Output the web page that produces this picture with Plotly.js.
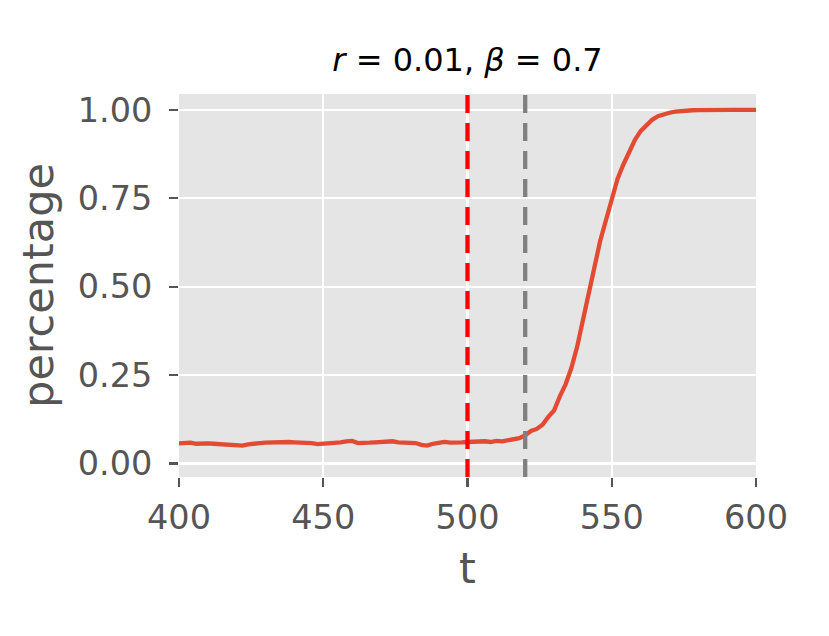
<!DOCTYPE html>
<html>
<head>
<meta charset="utf-8">
<script src="https://cdn.plot.ly/plotly-3.0.1.min.js"></script>
<style>html,body{margin:0;padding:0;background:#fff;}#chart{width:829px;height:636px;}</style>
</head>
<body>
<div id="chart"></div>
<script>
// Data
const tValues = [400,402,404,406,408,410,412,414,416,418,420,422,424,426,428,430,432,434,436,438,
  440,442,444,446,448,450,452,454,456,458,460,462,464,466,468,470,472,474,476,478,
  480,482,484,486,488,490,492,494,496,498,500,502,504,506,508,510,512,514,516,518,
  520,522,524,526,528,530,532,534,536,538,540,542,544,546,548,550,552,554,556,558,
  560,562,564,566,568,570,572,574,576,578,580,582,584,586,588,590,592,594,596,598,600];
const percentage = [0.057,0.058,0.059,0.056,0.058,0.057,0.056,0.055,0.052,0.050,0.049,0.051,0.054,0.057,0.058,0.059,0.060,0.059,0.060,0.061,
  0.060,0.060,0.059,0.058,0.055,0.056,0.059,0.061,0.060,0.063,0.064,0.058,0.060,0.059,0.060,0.062,0.064,0.063,0.060,0.059,
  0.061,0.058,0.053,0.051,0.056,0.060,0.061,0.059,0.058,0.060,0.061,0.062,0.063,0.063,0.061,0.064,0.063,0.066,0.068,0.072,
  0.080,0.092,0.098,0.110,0.132,0.150,0.190,0.224,0.270,0.330,0.405,0.475,0.555,0.630,0.690,0.755,0.805,0.845,0.880,0.915,
  0.940,0.958,0.972,0.982,0.988,0.992,0.995,0.997,0.998,0.999,0.9995,1.0,1.0,1.0,1.0,1.0,1.0,1.0,1.0,1.0,1.0];
const vlineRed = 500;
const vlineGray = 520;
const xTicks = [400,450,500,550,600];
const yTicks = [0,0.25,0.5,0.75,1.0];
const yTickLabels = ['0.00','0.25','0.50','0.75','1.00'];
const titleText = '<i>r</i> = 0.01, <i>β</i> = 0.7';

const trace = {
  x: tValues, y: percentage, mode: 'lines', type: 'scatter',
  line: {color: '#E24A33', width: 4.3}, hoverinfo: 'skip', showlegend: false
};

const layout = {
  width: 829, height: 636,
  margin: {l: 179, r: 73, t: 94, b: 159, pad: 0},
  paper_bgcolor: '#ffffff', plot_bgcolor: '#E5E5E5',
  font: {family: 'DejaVu Sans', color: '#555555', size: 33},
  title: {text: titleText, font: {family: 'DejaVu Sans', size: 32, color: '#000000'},
          x: 0.5, xanchor: 'center', xref: 'paper', y: 1 - 60/636, yanchor: 'middle', yref: 'container'},
  xaxis: {
    range: [400, 600], tickvals: xTicks, ticktext: xTicks.map(String),
    showgrid: true, gridcolor: '#ffffff', gridwidth: 2.2, zeroline: false,
    ticks: 'outside', ticklen: 9, tickwidth: 2.2, tickcolor: '#555555',
    tickfont: {size: 33.5, color: '#555555', family: 'DejaVu Sans'},
    ticklabelstandoff: 2,
    title: {text: 't', font: {size: 43, color: '#555555', family: 'DejaVu Sans'}, standoff: 16},
    showline: false, fixedrange: true
  },
  yaxis: {
    range: [-0.038, 1.045], tickvals: yTicks, ticktext: yTickLabels,
    showgrid: true, gridcolor: '#ffffff', gridwidth: 2.2, zeroline: false,
    ticks: 'outside', ticklen: 9, tickwidth: 2.2, tickcolor: '#555555',
    tickfont: {size: 33.5, color: '#555555', family: 'DejaVu Sans'},
    ticklabelstandoff: 10,
    title: {text: 'percentage', font: {size: 43, color: '#555555', family: 'DejaVu Sans'}, standoff: 10},
    showline: false, fixedrange: true
  },
  shapes: [
    {type: 'line', xref: 'x', yref: 'paper', x0: vlineRed, x1: vlineRed, y0: 0, y1: 1,
     line: {color: '#FF0000', width: 4.3, dash: '18px,10px'}},
    {type: 'line', xref: 'x', yref: 'paper', x0: vlineGray, x1: vlineGray, y0: 0, y1: 1,
     line: {color: '#808080', width: 4.3, dash: '18px,10px'}}
  ]
};

Plotly.newPlot('chart', [trace], layout, {staticPlot: true, displayModeBar: false});
</script>
</body>
</html>
